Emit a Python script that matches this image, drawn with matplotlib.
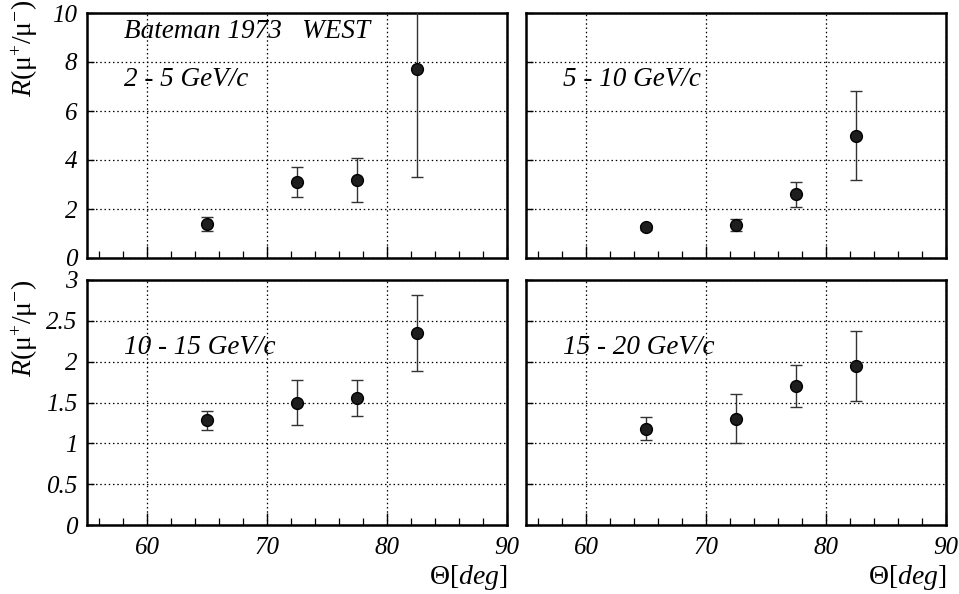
import matplotlib.pyplot as plt
import numpy as np
from matplotlib.ticker import MultipleLocator, FormatStrFormatter

# R(mu+/mu-) vs zenith angle, Bateman 1973, WEST
theta = [65, 72.5, 77.5, 82.5]

r_2_5 = [1.4, 3.1, 3.2, 7.7]
e_2_5 = [0.28, 0.62, 0.9, 4.4]

r_5_10 = [1.25, 1.35, 2.6, 5.0]
e_5_10 = [0.1, 0.25, 0.5, 1.8]

r_10_15 = [1.28, 1.50, 1.55, 2.35]
e_10_15 = [0.12, 0.27, 0.22, 0.47]

r_15_20 = [1.18, 1.30, 1.70, 1.95]
e_15_20 = [0.14, 0.30, 0.26, 0.43]

labels = ["2 - 5 GeV/c", "5 - 10 GeV/c", "10 - 15 GeV/c", "15 - 20 GeV/c"]

plt.rcParams['font.family'] = ['Liberation Serif', 'DejaVu Serif']
plt.rcParams['mathtext.fontset'] = 'custom'
plt.rcParams['mathtext.rm'] = 'Liberation Serif'
plt.rcParams['mathtext.it'] = 'Liberation Serif:italic'

fig = plt.figure(figsize=(9.59, 5.94), dpi=100)

W = 420 / 959
H = 245 / 594
lefts = [87 / 959, 526 / 959]
bottoms = [(594 - 258) / 594, (594 - 525) / 594]

data = [(r_2_5, e_2_5), (r_5_10, e_5_10), (r_10_15, e_10_15), (r_15_20, e_15_20)]
ylims = [10, 10, 3, 3]

ylab = r"$R$(μ$^{+}$/μ$^{-}$)"

for i, (vals, errs) in enumerate(data):
    row, col = divmod(i, 2)
    ax = fig.add_axes([lefts[col], bottoms[row], W, H])
    ax.errorbar(theta, vals, yerr=errs, fmt='o', color='#333333', ecolor='#333333',
                elinewidth=1, capsize=4.5, capthick=1, markersize=8.5,
                markerfacecolor='#1e1e1e', markeredgecolor='#000000', zorder=3)
    ax.set_xlim(55, 90)
    ax.set_ylim(0, ylims[i])
    ax.xaxis.set_major_locator(MultipleLocator(10))
    ax.xaxis.set_minor_locator(MultipleLocator(2))
    if ylims[i] == 10:
        ax.yaxis.set_major_locator(MultipleLocator(2))
    else:
        ax.yaxis.set_major_locator(MultipleLocator(0.5))
    ax.yaxis.set_major_formatter(FormatStrFormatter('%g'))
    ax.yaxis.set_minor_locator(plt.NullLocator())
    ax.grid(True, which='major', linestyle=(0, (1.2, 2.2)), color='black', linewidth=0.9)
    ax.tick_params(axis='x', which='major', direction='in', length=9, width=1, top=False)
    ax.tick_params(axis='x', which='minor', direction='in', length=5, width=0.9, top=False)
    ax.tick_params(axis='y', which='major', direction='in', length=5, width=1, right=False)
    ax.tick_params(axis='x', labelsize=18, pad=9)
    ax.tick_params(axis='y', labelsize=18, pad=7)
    for s in ax.spines.values():
        s.set_linewidth(1.8)
    for t in ax.get_xticklabels() + ax.get_yticklabels():
        t.set_fontstyle('italic')

    if row == 0:
        ax.set_xticklabels([])
    else:
        ax.set_xlabel(r"Θ[$deg$]", fontsize=20, loc='right')
        ax.xaxis.set_label_coords(1.0, -0.155)
    if col == 1:
        ax.set_yticklabels([])
    else:
        ax.set_ylabel(ylab, fontsize=20, loc='top')
        ax.yaxis.set_label_coords(-0.112, 1.053 if row == 0 else 1.0)

    ax.text(0.088, 0.70, labels[i], transform=ax.transAxes, fontsize=19.5,
            fontstyle='italic', ha='left', va='baseline')
    if i == 0:
        ax.text(0.088, 0.898, "Bateman 1973   WEST", transform=ax.transAxes,
                fontsize=19.5, fontstyle='italic', ha='left', va='baseline')

fig.savefig("out.png", dpi=100)
